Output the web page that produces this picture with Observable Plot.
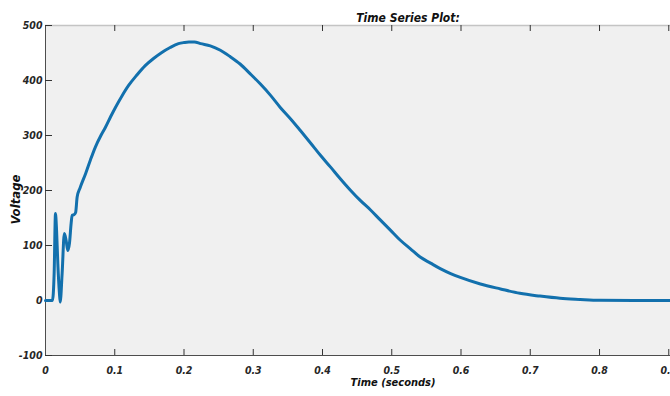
<!DOCTYPE html>
<html><head><meta charset="utf-8">
<script src="https://cdn.jsdelivr.net/npm/d3@7"></script>
<script src="https://cdn.jsdelivr.net/npm/@observablehq/plot@0.6"></script>
<style>html,body{margin:0;padding:0;background:#fff;}</style>
</head><body><div id="chart"></div>
<script>
const time = [0, 0.010, 0.0125, 0.0144, 0.0160, 0.0178, 0.0200, 0.0212, 0.0240, 0.0272, 0.0298, 0.0322, 0.0346, 0.0370, 0.0385, 0.0410, 0.0435, 0.0457, 0.050, 0.058, 0.065, 0.072, 0.080, 0.0866, 0.094, 0.101, 0.110, 0.120, 0.132, 0.144, 0.156, 0.168, 0.180, 0.192, 0.200, 0.207, 0.215, 0.224, 0.238, 0.2525, 0.266, 0.281, 0.295, 0.310, 0.325, 0.339, 0.354, 0.368, 0.383, 0.397, 0.412, 0.426, 0.440, 0.4545, 0.469, 0.483, 0.498, 0.512, 0.527, 0.541, 0.556, 0.570, 0.585, 0.599, 0.628, 0.657, 0.685, 0.714, 0.743, 0.772, 0.800, 0.850, 0.9025];
const voltage = [0, 0, 50, 158, 127, 67, 15, -3, 49, 122, 109, 91, 104, 140, 155, 156, 160, 188, 205, 231, 256, 279, 300, 315, 334, 351, 371, 391, 410, 427, 440, 451, 460, 467, 469, 470, 470, 467, 463, 455, 444, 430, 413, 394, 373, 351, 330, 309, 286, 264, 242, 221, 201, 182, 165, 147, 128, 110, 94, 79, 68, 58, 49, 42, 30, 21, 13, 8, 4, 2, 0.5, 0, 0];
const xTicks = [0, 0.1, 0.2, 0.3, 0.4, 0.5, 0.6, 0.7, 0.8, 0.9];
const yTicks = [-100, 0, 100, 200, 300, 400, 500];
const titleText = "Time Series Plot:";
const xLabel = "Time (seconds)";
const yLabel = "Voltage";

const data = time.map((t, i) => ({t, v: voltage[i]}));
const font = "'Liberation Sans Narrow','DejaVu Sans Condensed','Liberation Sans',Arial,sans-serif";

const chart = Plot.plot({
  width: 670, height: 396,
  marginTop: 25, marginBottom: 41, marginLeft: 45, marginRight: 0,
  style: {fontFamily: font, fontStyle: "italic", fontWeight: "bold", fontSize: "10.5px", color: "#262626", background: "#fff", overflow: "visible"},
  x: {domain: [0, 0.9025]},
  y: {domain: [-100, 500]},
  marks: [
    Plot.frame({fill: "#f0f0f0", stroke: null}),
    Plot.ruleY([500], {stroke: "#c4c4c4", strokeWidth: 1.5}),
    Plot.ruleY([-100], {stroke: "#4d4d4d"}),
    Plot.ruleX([0], {stroke: "#4d4d4d"}),
    Plot.tickX(xTicks.slice(1), {x: d => d, insetTop: 324, stroke: "#333"}),
    Plot.tickX(xTicks.slice(1), {x: d => d, insetBottom: 324, stroke: "#333"}),
    Plot.tickY(yTicks, {y: d => d, insetRight: 618, stroke: "#333"}),
    Plot.axisX({anchor: "bottom", ticks: xTicks, tickSize: 0, tickPadding: 11, tickFormat: d => String(d), label: null, fontSize: 10.5}),
    Plot.axisY({anchor: "left", ticks: yTicks, tickSize: 0, tickPadding: 3, tickFormat: d => String(d), label: null, fontSize: 10.5}),
    Plot.line(data, {x: "t", y: "v", stroke: "#1270ad", strokeWidth: 3, curve: "monotone-x"}),
    Plot.text([titleText], {frameAnchor: "top", dx: 50, dy: -12, fontSize: 12, fill: "#111"}),
    Plot.text([xLabel], {frameAnchor: "bottom", dx: 35, dy: 30, fontSize: 11, fill: "#111"}),
    Plot.text([yLabel], {frameAnchor: "left", dx: -30, dy: 34, rotate: -90, fontSize: 13, fill: "#111"})
  ]
});
document.getElementById("chart").appendChild(chart);
</script>
</body></html>
